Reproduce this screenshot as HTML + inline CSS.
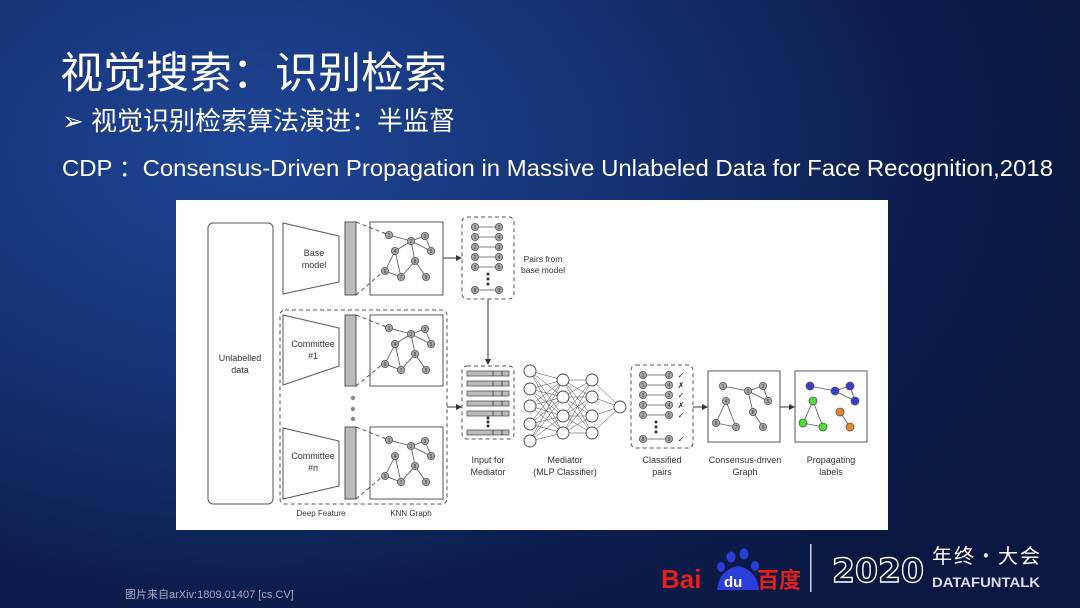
<!DOCTYPE html>
<html><head><meta charset="utf-8"><style>
html,body{margin:0;padding:0}
body{width:1080px;height:608px;overflow:hidden;position:relative;font-family:"Liberation Sans","Noto Sans CJK SC",sans-serif;
background:radial-gradient(ellipse 900px 600px at 250px 150px,#1e4596 0%,#14306f 45%,#0c1d4c 75%,#0a1740 100%);}
.t{position:absolute;color:#fff;white-space:nowrap}
</style></head><body>
<div class="t" style="left:60px;top:46px;font-size:43px;line-height:56px;letter-spacing:0px;">视觉搜索：识别检索</div>
<div class="t" style="left:62px;top:104px;font-size:26px;line-height:34px;">➢ 视觉识别检索算法演进：半监督</div>
<svg style="position:absolute;left:0;top:0" width="1080" height="608">
<text x="62" y="176" fill="#fff" font-size="23" font-family="Liberation Sans, Noto Sans CJK SC, sans-serif" textLength="991" lengthAdjust="spacingAndGlyphs">CDP ：Consensus-Driven Propagation in Massive Unlabeled Data for Face Recognition,2018</text>
</svg>

<svg style="position:absolute;left:176px;top:200px" width="712" height="330" viewBox="176 200 712 330" font-family="Liberation Sans, sans-serif">
<defs>
<marker id="ar" markerWidth="6" markerHeight="6" refX="5" refY="3" orient="auto"><path d="M0,0 L6,3 L0,6z" fill="#333"/></marker>
</defs>
<rect x="176" y="200" width="712" height="330" fill="#fff"/>
<g stroke="#555" stroke-width="1" fill="none">
<rect x="208" y="223" width="65" height="281" rx="5"/>
<path d="M283,223 L339,236 L339,282 L283,294z"/>
<path d="M283,315 L339,328 L339,366 L283,385z"/>
<path d="M283,428 L339,441 L339,486 L283,499z"/>
<rect x="280" y="310" width="167" height="194" rx="5" stroke-dasharray="4,3"/>
<rect x="345" y="222" width="11" height="73" fill="#bbb"/>
<rect x="345" y="315" width="11" height="71" fill="#bbb"/>
<rect x="345" y="427" width="11" height="72" fill="#bbb"/>
<rect x="370" y="222" width="73" height="73"/>
<rect x="370" y="315" width="73" height="71"/>
<rect x="370" y="427" width="73" height="72"/>
<path d="M356,222 L389,235 M356,295 L383,272 M356,315 L389,328 M356,386 L383,364 M356,427 L389,440 M356,499 L383,476" stroke-dasharray="4,3"/>
<rect x="462" y="217" width="52" height="82" rx="5" stroke-dasharray="4,3"/>
<rect x="462" y="366" width="52" height="73" rx="5" stroke-dasharray="4,3"/>
<rect x="631" y="365" width="62" height="83" rx="5" stroke-dasharray="4,3"/>
<rect x="708" y="371" width="72" height="71"/>
<rect x="795" y="371" width="72" height="71"/>
<path d="M443,258 L461,258" marker-end="url(#ar)" stroke="#333"/>
<path d="M488,299 L488,364" marker-end="url(#ar)" stroke="#333"/>
<path d="M447,407 L461,407" marker-end="url(#ar)" stroke="#333"/>
<path d="M693,407 L707,407" marker-end="url(#ar)" stroke="#333"/>
<path d="M780,407 L794,407" marker-end="url(#ar)" stroke="#333"/>
</g>
<g fill="#888"><circle cx="353" cy="398" r="2.2"/><circle cx="353" cy="409" r="2.2"/><circle cx="353" cy="419" r="2.2"/></g>

<g transform="translate(370,222)" stroke="#555" stroke-width="0.8" font-size="5" text-anchor="middle">
<path d="M19,13 L41,19 L55,14 L61,29 L41,19 M25,29 L41,19 M25,29 L15,49 L31,55 L25,29 M41,19 L45,39 L31,55 M45,39 L56,55" fill="none"/>
<g fill="#aaa"><circle cx="19" cy="13" r="3.6"/><circle cx="41" cy="19" r="3.6"/><circle cx="55" cy="14" r="3.6"/><circle cx="25" cy="29" r="3.6"/><circle cx="61" cy="29" r="3.6"/><circle cx="15" cy="49" r="3.6"/><circle cx="31" cy="55" r="3.6"/><circle cx="45" cy="39" r="3.6"/><circle cx="56" cy="55" r="3.6"/></g>
<g fill="#333" stroke="none"><text x="19" y="15">1</text><text x="41" y="21">2</text><text x="55" y="16">3</text><text x="25" y="31">4</text><text x="61" y="31">5</text><text x="15" y="51">6</text><text x="31" y="57">7</text><text x="45" y="41">8</text><text x="56" y="57">9</text></g>
</g>
<g transform="translate(370,315)" stroke="#555" stroke-width="0.8" font-size="5" text-anchor="middle">
<path d="M19,13 L41,19 L55,14 L61,29 L41,19 M25,29 L41,19 M25,29 L15,49 L31,55 L25,29 M41,19 L45,39 L31,55 M45,39 L56,55" fill="none"/>
<g fill="#aaa"><circle cx="19" cy="13" r="3.6"/><circle cx="41" cy="19" r="3.6"/><circle cx="55" cy="14" r="3.6"/><circle cx="25" cy="29" r="3.6"/><circle cx="61" cy="29" r="3.6"/><circle cx="15" cy="49" r="3.6"/><circle cx="31" cy="55" r="3.6"/><circle cx="45" cy="39" r="3.6"/><circle cx="56" cy="55" r="3.6"/></g>
<g fill="#333" stroke="none"><text x="19" y="15">1</text><text x="41" y="21">2</text><text x="55" y="16">3</text><text x="25" y="31">4</text><text x="61" y="31">5</text><text x="15" y="51">6</text><text x="31" y="57">7</text><text x="45" y="41">8</text><text x="56" y="57">9</text></g>
</g>
<g transform="translate(370,427)" stroke="#555" stroke-width="0.8" font-size="5" text-anchor="middle">
<path d="M19,13 L41,19 L55,14 L61,29 L41,19 M25,29 L15,49 L31,55 L25,29 M41,19 L45,39 L31,55 M45,39 L56,55" fill="none"/>
<g fill="#aaa"><circle cx="19" cy="13" r="3.6"/><circle cx="41" cy="19" r="3.6"/><circle cx="55" cy="14" r="3.6"/><circle cx="25" cy="29" r="3.6"/><circle cx="61" cy="29" r="3.6"/><circle cx="15" cy="49" r="3.6"/><circle cx="31" cy="55" r="3.6"/><circle cx="45" cy="39" r="3.6"/><circle cx="56" cy="55" r="3.6"/></g>
<g fill="#333" stroke="none"><text x="19" y="15">1</text><text x="41" y="21">2</text><text x="55" y="16">3</text><text x="25" y="31">4</text><text x="61" y="31">5</text><text x="15" y="51">6</text><text x="31" y="57">7</text><text x="45" y="41">8</text><text x="56" y="57">9</text></g>
</g>

<g stroke="#555" stroke-width="0.8" font-size="5" text-anchor="middle">
<path d="M475,227 H499 M475,237 H499 M475,247 H499 M475,257 H499 M475,267 H499 M475,290 H499" fill="none"/>
<g fill="#aaa"><circle cx="475" cy="227" r="3.6"/><circle cx="499" cy="227" r="3.6"/><circle cx="475" cy="237" r="3.6"/><circle cx="499" cy="237" r="3.6"/><circle cx="475" cy="247" r="3.6"/><circle cx="499" cy="247" r="3.6"/><circle cx="475" cy="257" r="3.6"/><circle cx="499" cy="257" r="3.6"/><circle cx="475" cy="267" r="3.6"/><circle cx="499" cy="267" r="3.6"/><circle cx="475" cy="290" r="3.6"/><circle cx="499" cy="290" r="3.6"/></g>
<g fill="#333" stroke="none"><text x="475" y="229">1</text><text x="499" y="229">2</text><text x="475" y="239">1</text><text x="499" y="239">4</text><text x="475" y="249">2</text><text x="499" y="249">3</text><text x="475" y="259">2</text><text x="499" y="259">4</text><text x="475" y="269">2</text><text x="499" y="269">5</text><text x="475" y="292">8</text><text x="499" y="292">9</text></g>
<g fill="#333" stroke="none"><circle cx="488" cy="274" r="1.5"/><circle cx="488" cy="279" r="1.5"/><circle cx="488" cy="284" r="1.5"/></g>
</g>
<g stroke="#555" stroke-width="0.8" fill="#bbb">
<rect x="467" y="371" width="42" height="5"/><rect x="467" y="381" width="42" height="5"/><rect x="467" y="391" width="42" height="5"/><rect x="467" y="401" width="42" height="5"/><rect x="467" y="411" width="42" height="5"/><rect x="467" y="430" width="42" height="5"/>
<path d="M493,371v5M493,381v5M493,391v5M493,401v5M493,411v5M493,430v5 M502,371v5M502,381v5M502,391v5M502,401v5M502,411v5M502,430v5" fill="none" stroke="#333"/>
</g>
<g fill="#333"><circle cx="488" cy="418" r="1.5"/><circle cx="488" cy="422" r="1.5"/><circle cx="488" cy="426" r="1.5"/></g>

<g stroke="#444" stroke-width="0.5" fill="none">
<path d="M530,371L563,380M530,371L563,397M530,371L563,416M530,371L563,433M530,389L563,380M530,389L563,397M530,389L563,416M530,389L563,433M530,406L563,380M530,406L563,397M530,406L563,416M530,406L563,433M530,424L563,380M530,424L563,397M530,424L563,416M530,424L563,433M530,441L563,380M530,441L563,397M530,441L563,416M530,441L563,433
M563,380L592,380M563,380L592,397M563,380L592,416M563,380L592,433M563,397L592,380M563,397L592,397M563,397L592,416M563,397L592,433M563,416L592,380M563,416L592,397M563,416L592,416M563,416L592,433M563,433L592,380M563,433L592,397M563,433L592,416M563,433L592,433
M592,380L620,407M592,397L620,407M592,416L620,407M592,433L620,407"/>
</g>
<g stroke="#444" stroke-width="0.9" fill="#fff">
<circle cx="530" cy="371" r="6"/><circle cx="530" cy="389" r="6"/><circle cx="530" cy="406" r="6"/><circle cx="530" cy="424" r="6"/><circle cx="530" cy="441" r="6"/>
<circle cx="563" cy="380" r="6"/><circle cx="563" cy="397" r="6"/><circle cx="563" cy="416" r="6"/><circle cx="563" cy="433" r="6"/>
<circle cx="592" cy="380" r="6"/><circle cx="592" cy="397" r="6"/><circle cx="592" cy="416" r="6"/><circle cx="592" cy="433" r="6"/>
<circle cx="620" cy="407" r="6"/>
</g>

<g stroke="#555" stroke-width="0.8" font-size="5" text-anchor="middle">
<path d="M643,375 H669 M643,385 H669 M643,395 H669 M643,405 H669 M643,415 H669 M643,439 H669" fill="none"/>
<g fill="#aaa"><circle cx="643" cy="375" r="3.6"/><circle cx="669" cy="375" r="3.6"/><circle cx="643" cy="385" r="3.6"/><circle cx="669" cy="385" r="3.6"/><circle cx="643" cy="395" r="3.6"/><circle cx="669" cy="395" r="3.6"/><circle cx="643" cy="405" r="3.6"/><circle cx="669" cy="405" r="3.6"/><circle cx="643" cy="415" r="3.6"/><circle cx="669" cy="415" r="3.6"/><circle cx="643" cy="439" r="3.6"/><circle cx="669" cy="439" r="3.6"/></g>
<g fill="#333" stroke="none"><text x="643" y="377">1</text><text x="669" y="377">2</text><text x="643" y="387">1</text><text x="669" y="387">4</text><text x="643" y="397">2</text><text x="669" y="397">3</text><text x="643" y="407">2</text><text x="669" y="407">4</text><text x="643" y="417">2</text><text x="669" y="417">5</text><text x="643" y="441">8</text><text x="669" y="441">9</text></g>
<g fill="#222" stroke="none" font-size="8"><text x="681" y="378">✓</text><text x="681" y="388">✗</text><text x="681" y="398">✓</text><text x="681" y="408">✗</text><text x="681" y="418">✓</text><text x="681" y="442">✓</text></g>
<g fill="#333" stroke="none"><circle cx="656" cy="422" r="1.5"/><circle cx="656" cy="427" r="1.5"/><circle cx="656" cy="432" r="1.5"/></g>
</g>

<g transform="translate(708,371)" stroke="#555" stroke-width="0.8" font-size="5" text-anchor="middle">
<path d="M15,15 L40,20 L55,15 L60,30 L40,20 L45,41 L55,56 M18,30 L8,52 L28,56 L18,30" fill="none"/>
<g fill="#aaa"><circle cx="15" cy="15" r="3.6"/><circle cx="40" cy="20" r="3.6"/><circle cx="55" cy="15" r="3.6"/><circle cx="18" cy="30" r="3.6"/><circle cx="60" cy="30" r="3.6"/><circle cx="8" cy="52" r="3.6"/><circle cx="28" cy="56" r="3.6"/><circle cx="45" cy="41" r="3.6"/><circle cx="55" cy="56" r="3.6"/></g>
<g fill="#333" stroke="none"><text x="15" y="17">1</text><text x="40" y="22">2</text><text x="55" y="17">3</text><text x="18" y="32">4</text><text x="60" y="32">5</text><text x="8" y="54">6</text><text x="28" y="58">7</text><text x="45" y="43">8</text><text x="55" y="58">9</text></g>
</g>
<g transform="translate(795,371)" stroke="#555" stroke-width="0.8">
<path d="M15,15 L40,20 L55,15 L60,30 L40,20 M45,41 L55,56 M18,30 L8,52 L28,56 L18,30" fill="none"/>
<g fill="#3a3ad0"><circle cx="15" cy="15" r="4"/><circle cx="40" cy="20" r="4"/><circle cx="55" cy="15" r="4"/><circle cx="60" cy="30" r="4"/></g>
<g fill="#4ee03a"><circle cx="18" cy="30" r="4"/><circle cx="8" cy="52" r="4"/><circle cx="28" cy="56" r="4"/></g>
<g fill="#e08a2a"><circle cx="45" cy="41" r="4"/><circle cx="55" cy="56" r="4"/></g>
</g>

<g fill="#333" font-size="9" text-anchor="middle">
<text x="314" y="256">Base</text><text x="314" y="268">model</text>
<text x="313" y="347">Committee</text><text x="313" y="359">#1</text>
<text x="313" y="459">Committee</text><text x="313" y="471">#n</text>
<text x="240" y="361">Unlabelled</text><text x="240" y="373">data</text>
<text x="321" y="516" font-size="8">Deep Feature</text><text x="411" y="516" font-size="8">KNN Graph</text>
<text x="543" y="262" font-size="8.5">Pairs from</text><text x="543" y="273" font-size="8.5">base model</text>
<text x="488" y="463">Input for</text><text x="488" y="475">Mediator</text>
<text x="565" y="463">Mediator</text><text x="565" y="475">(MLP Classifier)</text>
<text x="662" y="463">Classified</text><text x="662" y="475">pairs</text>
<text x="745" y="463">Consensus-driven</text><text x="745" y="475">Graph</text>
<text x="831" y="463">Propagating</text><text x="831" y="475">labels</text>
</g>
</svg>

<div class="t" style="left:125px;top:586px;font-size:11px;color:#aab;">图片来自arXiv:1809.01407 [cs.CV]</div>
<svg style="position:absolute;left:640px;top:530px" width="440" height="78">
<text x="21" y="58" fill="#e0201c" font-size="26" font-weight="bold" font-family="Liberation Sans, sans-serif">Bai</text>
<g fill="#2b3fd8"><ellipse cx="91" cy="27" rx="4.5" ry="5.5"/><ellipse cx="104" cy="24" rx="4.5" ry="5.5"/><ellipse cx="81" cy="37" rx="4" ry="5"/><ellipse cx="115" cy="36" rx="4" ry="5"/><path d="M77,60 Q79,40 98,36 Q117,40 119,60 Z"/></g>
<text x="84" y="57" fill="#fff" font-size="15" font-weight="bold" font-family="Liberation Sans, sans-serif">du</text>
<text x="117" y="58" fill="#e0201c" font-size="22" font-weight="bold" font-family="Noto Sans CJK SC, sans-serif">百度</text>
<rect x="170" y="14" width="1.5" height="48" fill="#ccd"/>
<text x="192" y="52" fill="none" stroke="#fff" stroke-width="1.4" font-size="33" font-family="DejaVu Sans, sans-serif" font-weight="bold" textLength="92" lengthAdjust="spacingAndGlyphs">2020</text>
<text x="292" y="33" fill="#fff" font-size="20" font-family="Noto Sans CJK SC, sans-serif" letter-spacing="2">年终·大会</text>
<text x="292" y="57" fill="#dde" font-size="14" font-weight="bold" font-family="Liberation Sans, sans-serif" textLength="108" lengthAdjust="spacingAndGlyphs">DATAFUNTALK</text>
</svg>
</body></html>
